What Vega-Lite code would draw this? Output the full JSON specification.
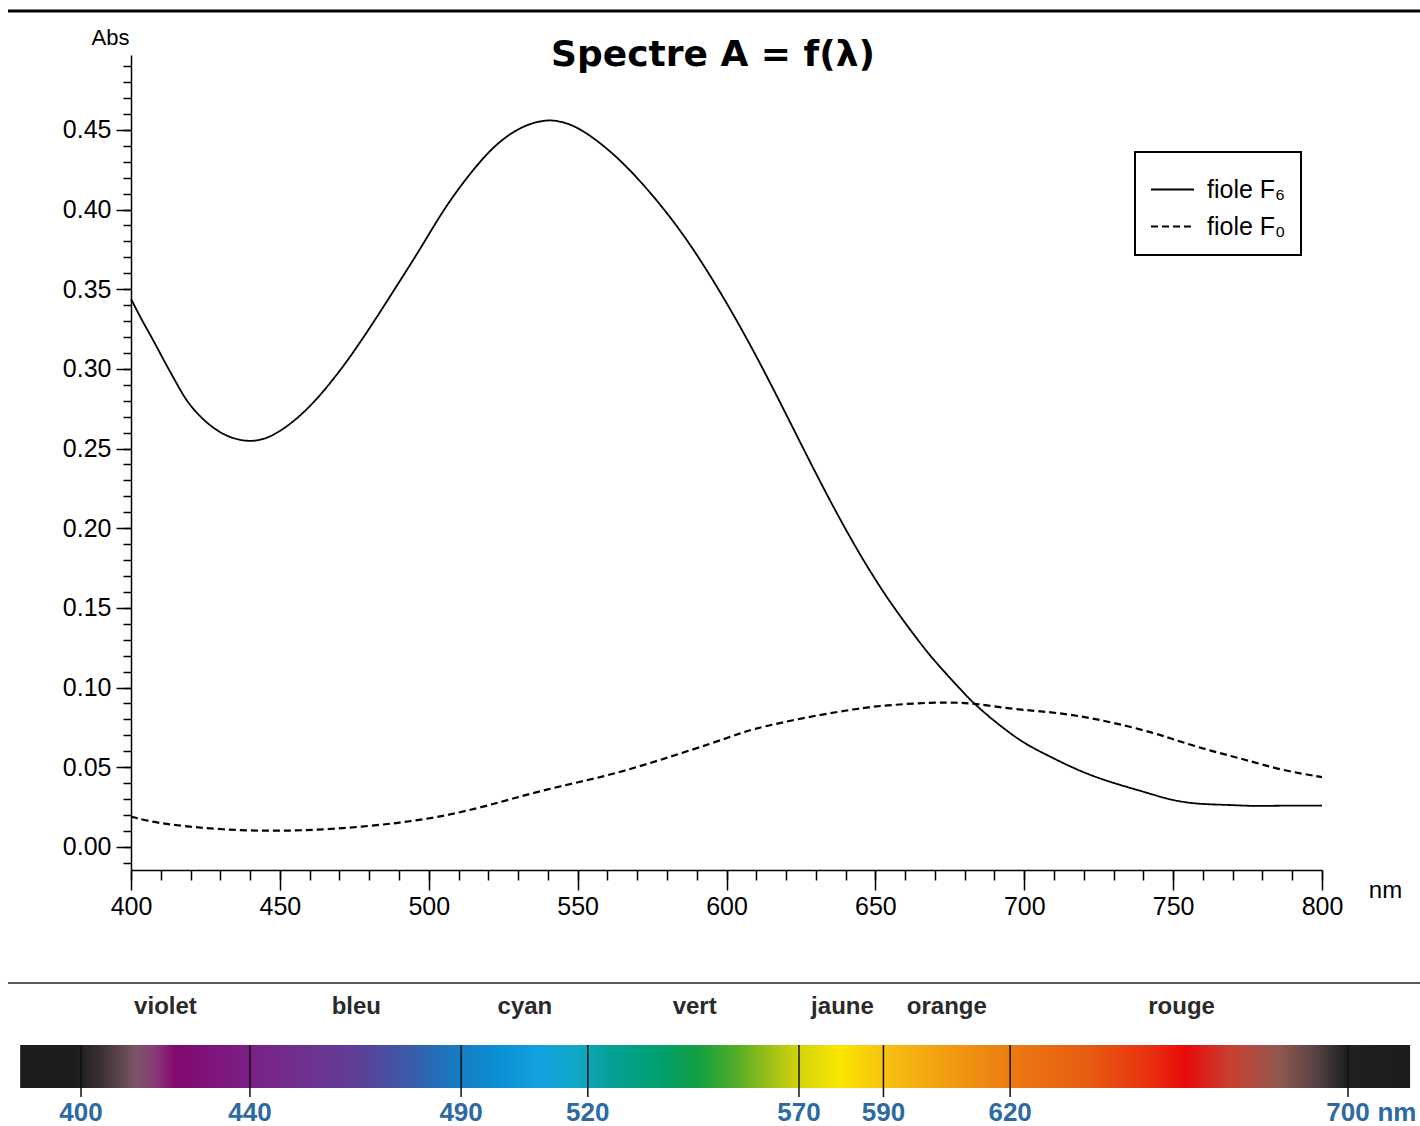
{
  "$schema": "https://vega.github.io/schema/vega-lite/v6.json",
  "width": 1420,
  "height": 1126,
  "autosize": {"type": "none"},
  "padding": 0,
  "background": "white",
  "config": {"view": {"stroke": null}, "font": "Liberation Sans", "legend": {"strokeWidth": 2}},
  "title": {"text": "Spectre A = f(λ)", "font": "DejaVu Sans", "fontSize": 36, "fontWeight": "bold", "anchor": "middle", "frame": "group", "offset": 0, "dy": 102, "dx": 3, "baseline": "alphabetic", "color": "black"},
  "datasets": {
    "spectres": [
      {"lambda": 400, "A": 0.344, "fiole": "fiole F₆"},
      {"lambda": 403.5, "A": 0.331, "fiole": "fiole F₆"},
      {"lambda": 407.5, "A": 0.318, "fiole": "fiole F₆"},
      {"lambda": 411.4, "A": 0.304, "fiole": "fiole F₆"},
      {"lambda": 415.3, "A": 0.291, "fiole": "fiole F₆"},
      {"lambda": 418.7, "A": 0.2796, "fiole": "fiole F₆"},
      {"lambda": 423.2, "A": 0.270, "fiole": "fiole F₆"},
      {"lambda": 427.6, "A": 0.2628, "fiole": "fiole F₆"},
      {"lambda": 433.2, "A": 0.2566, "fiole": "fiole F₆"},
      {"lambda": 440, "A": 0.254, "fiole": "fiole F₆"},
      {"lambda": 446.7, "A": 0.2565, "fiole": "fiole F₆"},
      {"lambda": 455.6, "A": 0.268, "fiole": "fiole F₆"},
      {"lambda": 463.5, "A": 0.283, "fiole": "fiole F₆"},
      {"lambda": 472.4, "A": 0.304, "fiole": "fiole F₆"},
      {"lambda": 481.4, "A": 0.329, "fiole": "fiole F₆"},
      {"lambda": 489.2, "A": 0.352, "fiole": "fiole F₆"},
      {"lambda": 497.1, "A": 0.375, "fiole": "fiole F₆"},
      {"lambda": 504.9, "A": 0.4, "fiole": "fiole F₆"},
      {"lambda": 513.9, "A": 0.423, "fiole": "fiole F₆"},
      {"lambda": 522.8, "A": 0.442, "fiole": "fiole F₆"},
      {"lambda": 531.8, "A": 0.453, "fiole": "fiole F₆"},
      {"lambda": 539.6, "A": 0.4565, "fiole": "fiole F₆"},
      {"lambda": 544.1, "A": 0.4555, "fiole": "fiole F₆"},
      {"lambda": 550.8, "A": 0.4515, "fiole": "fiole F₆"},
      {"lambda": 563.1, "A": 0.434, "fiole": "fiole F₆"},
      {"lambda": 575.4, "A": 0.409, "fiole": "fiole F₆"},
      {"lambda": 586.6, "A": 0.382, "fiole": "fiole F₆"},
      {"lambda": 597.8, "A": 0.349, "fiole": "fiole F₆"},
      {"lambda": 609, "A": 0.312, "fiole": "fiole F₆"},
      {"lambda": 620.2, "A": 0.271, "fiole": "fiole F₆"},
      {"lambda": 631.4, "A": 0.229, "fiole": "fiole F₆"},
      {"lambda": 642.6, "A": 0.19, "fiole": "fiole F₆"},
      {"lambda": 653.8, "A": 0.156, "fiole": "fiole F₆"},
      {"lambda": 665, "A": 0.128, "fiole": "fiole F₆"},
      {"lambda": 669.5, "A": 0.1174, "fiole": "fiole F₆"},
      {"lambda": 678.4, "A": 0.0992, "fiole": "fiole F₆"},
      {"lambda": 682.9, "A": 0.0902, "fiole": "fiole F₆"},
      {"lambda": 690.7, "A": 0.0777, "fiole": "fiole F₆"},
      {"lambda": 699.7, "A": 0.0651, "fiole": "fiole F₆"},
      {"lambda": 707.5, "A": 0.0578, "fiole": "fiole F₆"},
      {"lambda": 718.7, "A": 0.0473, "fiole": "fiole F₆"},
      {"lambda": 729.9, "A": 0.04, "fiole": "fiole F₆"},
      {"lambda": 741.1, "A": 0.0341, "fiole": "fiole F₆"},
      {"lambda": 748.9, "A": 0.0295, "fiole": "fiole F₆"},
      {"lambda": 757.9, "A": 0.0268, "fiole": "fiole F₆"},
      {"lambda": 769.1, "A": 0.0264, "fiole": "fiole F₆"},
      {"lambda": 775.8, "A": 0.0256, "fiole": "fiole F₆"},
      {"lambda": 785.9, "A": 0.0259, "fiole": "fiole F₆"},
      {"lambda": 800, "A": 0.0259, "fiole": "fiole F₆"},
      {"lambda": 400, "A": 0.019, "fiole": "fiole F₀"},
      {"lambda": 405, "A": 0.0165, "fiole": "fiole F₀"},
      {"lambda": 413.4, "A": 0.0138, "fiole": "fiole F₀"},
      {"lambda": 430.6, "A": 0.0107, "fiole": "fiole F₀"},
      {"lambda": 449.4, "A": 0.0098, "fiole": "fiole F₀"},
      {"lambda": 468.3, "A": 0.0111, "fiole": "fiole F₀"},
      {"lambda": 490.5, "A": 0.0149, "fiole": "fiole F₀"},
      {"lambda": 507.7, "A": 0.0201, "fiole": "fiole F₀"},
      {"lambda": 524.8, "A": 0.0284, "fiole": "fiole F₀"},
      {"lambda": 538.5, "A": 0.0358, "fiole": "fiole F₀"},
      {"lambda": 559.1, "A": 0.0441, "fiole": "fiole F₀"},
      {"lambda": 576.2, "A": 0.0535, "fiole": "fiole F₀"},
      {"lambda": 601.9, "A": 0.0692, "fiole": "fiole F₀"},
      {"lambda": 607.1, "A": 0.0734, "fiole": "fiole F₀"},
      {"lambda": 627.6, "A": 0.0818, "fiole": "fiole F₀"},
      {"lambda": 644.8, "A": 0.087, "fiole": "fiole F₀"},
      {"lambda": 651.5, "A": 0.0885, "fiole": "fiole F₀"},
      {"lambda": 663.6, "A": 0.0902, "fiole": "fiole F₀"},
      {"lambda": 674, "A": 0.0908, "fiole": "fiole F₀"},
      {"lambda": 683, "A": 0.0902, "fiole": "fiole F₀"},
      {"lambda": 696.3, "A": 0.0864, "fiole": "fiole F₀"},
      {"lambda": 707.5, "A": 0.0849, "fiole": "fiole F₀"},
      {"lambda": 718.7, "A": 0.0822, "fiole": "fiole F₀"},
      {"lambda": 729.9, "A": 0.078, "fiole": "fiole F₀"},
      {"lambda": 743.3, "A": 0.0718, "fiole": "fiole F₀"},
      {"lambda": 752.3, "A": 0.0661, "fiole": "fiole F₀"},
      {"lambda": 763.5, "A": 0.0598, "fiole": "fiole F₀"},
      {"lambda": 774.7, "A": 0.0546, "fiole": "fiole F₀"},
      {"lambda": 785.9, "A": 0.0483, "fiole": "fiole F₀"},
      {"lambda": 800, "A": 0.0438, "fiole": "fiole F₀"}
    ],
    "graduations": [
      {"lambda": 400, "texte": "400"},
      {"lambda": 440, "texte": "440"},
      {"lambda": 490, "texte": "490"},
      {"lambda": 520, "texte": "520"},
      {"lambda": 570, "texte": "570"},
      {"lambda": 590, "texte": "590"},
      {"lambda": 620, "texte": "620"},
      {"lambda": 700, "texte": "700"},
      {"lambda": 711.6, "texte": "nm"}
    ],
    "couleurs": [
      {"lambda": 420, "nom": "violet"},
      {"lambda": 465.2, "nom": "bleu"},
      {"lambda": 505.1, "nom": "cyan"},
      {"lambda": 545.3, "nom": "vert"},
      {"lambda": 580.3, "nom": "jaune"},
      {"lambda": 605, "nom": "orange"},
      {"lambda": 660.6, "nom": "rouge"}
    ],
    "bande": [{"debut": 385.6, "fin": 714.7}]
  },
  "layer": [
    {
      "layer": [
        {
          "data": {"name": "spectres"},
          "transform": [{"filter": "datum.fiole === 'fiole F₆'"}],
          "mark": {"type": "line", "color": "black", "strokeWidth": 1.8, "interpolate": "basis"},
          "encoding": {
            "x": {
              "field": "lambda", "type": "quantitative",
              "scale": {"domain": [400, 800], "range": [131, 1322], "nice": false, "zero": false},
              "axis": {
                "orient": "bottom", "offset": -256,
                "values": [400,410,420,430,440,450,460,470,480,490,500,510,520,530,540,550,560,570,580,590,600,610,620,630,640,650,660,670,680,690,700,710,720,730,740,750,760,770,780,790,800],
                "tickSize": 10, "labels": false, "grid": false,
                "domainColor": "black", "domainWidth": 1.5, "tickColor": "black", "tickWidth": 1.5,
                "title": "nm", "titleX": 1385, "titleY": 20, "titleAlign": "center", "titleBaseline": "middle",
                "titleFontSize": 24, "titleFontWeight": "normal", "titleColor": "black", "titleFont": "Liberation Sans"
              }
            },
            "y": {
              "field": "A", "type": "quantitative",
              "scale": {"domain": [-0.0145, 0.497], "range": [870, 55], "nice": false, "zero": false},
              "axis": {
                "orient": "left", "offset": -131,
                "values": [-0.01,0,0.01,0.02,0.03,0.04,0.05,0.06,0.07,0.08,0.09,0.1,0.11,0.12,0.13,0.14,0.15,0.16,0.17,0.18,0.19,0.2,0.21,0.22,0.23,0.24,0.25,0.26,0.27,0.28,0.29,0.3,0.31,0.32,0.33,0.34,0.35,0.36,0.37,0.38,0.39,0.4,0.41,0.42,0.43,0.44,0.45,0.46,0.47,0.48,0.49],
                "tickSize": 8, "labels": false, "grid": false,
                "domainColor": "black", "domainWidth": 1.5, "tickColor": "black", "tickWidth": 1.5,
                "title": "Abs", "titleAngle": 0, "titleX": -21, "titleY": 44, "titleAlign": "center", "titleBaseline": "alphabetic",
                "titleFontSize": 22, "titleFontWeight": "normal", "titleColor": "black", "titleFont": "Liberation Sans"
              }
            },
            "strokeDash": {
              "field": "fiole", "type": "nominal",
              "scale": {"domain": ["fiole F₆", "fiole F₀"], "range": [[1, 0], [7, 4]]},
              "legend": {
                "orient": "none", "legendX": 1135, "legendY": 152, "title": null,
                "symbolType": "stroke", "symbolSize": 1849, "symbolStrokeWidth": 2, "symbolStrokeColor": "black",
                "labelFontSize": 25, "labelFont": "Liberation Sans", "labelColor": "black", "labelOffset": 12,
                "padding": 15, "rowPadding": 1, "strokeColor": "black", "fillColor": "white"
              }
            }
          }
        },
        {
          "data": {"name": "spectres"},
          "transform": [{"filter": "datum.fiole === 'fiole F₀'"}],
          "mark": {"type": "line", "color": "black", "strokeWidth": 2.2, "interpolate": "basis"},
          "encoding": {
            "x": {
              "field": "lambda", "type": "quantitative",
              "axis": {
                "orient": "bottom", "offset": -256,
                "values": [400, 450, 500, 550, 600, 650, 700, 750, 800],
                "format": "d", "tickSize": 20, "domain": false, "grid": false, "title": null,
                "labelOverlap": false, "labelFlush": false, "labelBound": false,
                "labelFontSize": 25, "labelPadding": 4, "labelColor": "black", "labelFont": "Liberation Sans",
                "tickColor": "black", "tickWidth": 1.5
              }
            },
            "y": {
              "field": "A", "type": "quantitative",
              "axis": {
                "orient": "left", "offset": -131,
                "values": [0, 0.05, 0.1, 0.15, 0.2, 0.25, 0.3, 0.35, 0.4, 0.45],
                "format": ".2f", "tickSize": 15, "domain": false, "grid": false, "title": null,
                "labelOverlap": false, "labelFlush": false, "labelBound": false,
                "labelFontSize": 25, "labelPadding": 5, "labelColor": "black", "labelFont": "Liberation Sans",
                "tickColor": "black", "tickWidth": 1.5
              }
            },
            "strokeDash": {
              "field": "fiole", "type": "nominal",
              "legend": {
                "orient": "none", "legendX": 1135, "legendY": 152, "title": null,
                "symbolType": "stroke", "symbolSize": 1849, "symbolStrokeWidth": 2, "symbolStrokeColor": "black",
                "labelFontSize": 25, "labelFont": "Liberation Sans", "labelColor": "black", "labelOffset": 12,
                "padding": 15, "rowPadding": 1, "strokeColor": "black", "fillColor": "white"
              }
            }
          }
        },
        {
          "data": {"values": [{}]},
          "mark": {"type": "rule", "color": "black", "strokeWidth": 3},
          "encoding": {
            "x": {"datum": 358.7, "type": "quantitative", "axis": null},
            "x2": {"datum": 833},
            "y": {"datum": 0.5246, "type": "quantitative", "axis": null}
          }
        }
      ],
      "resolve": {"axis": {"x": "independent", "y": "independent"}}
    },
    {
      "layer": [
        {
          "data": {"name": "bande"},
          "mark": {"type": "rect", "color": {"gradient": "linear", "x1": 0, "x2": 1, "y1": 0, "y2": 0, "stops": [
            {"offset": 0, "color": "#1c1c1e"},
            {"offset": 0.04, "color": "#1c1c1e"},
            {"offset": 0.058, "color": "#3a3034"},
            {"offset": 0.083, "color": "#7a5565"},
            {"offset": 0.097, "color": "#8a3a78"},
            {"offset": 0.112, "color": "#820870"},
            {"offset": 0.151, "color": "#7c1a80"},
            {"offset": 0.201, "color": "#703090"},
            {"offset": 0.245, "color": "#5c4098"},
            {"offset": 0.281, "color": "#3a5ca8"},
            {"offset": 0.309, "color": "#1a78c0"},
            {"offset": 0.345, "color": "#0a90d4"},
            {"offset": 0.374, "color": "#12a2e0"},
            {"offset": 0.399, "color": "#10a8c8"},
            {"offset": 0.424, "color": "#06a098"},
            {"offset": 0.46, "color": "#00a070"},
            {"offset": 0.489, "color": "#14a040"},
            {"offset": 0.514, "color": "#50ac28"},
            {"offset": 0.54, "color": "#a0c018"},
            {"offset": 0.561, "color": "#d4d40a"},
            {"offset": 0.59, "color": "#fae600"},
            {"offset": 0.619, "color": "#f8c410"},
            {"offset": 0.662, "color": "#f2a010"},
            {"offset": 0.712, "color": "#ec7c12"},
            {"offset": 0.77, "color": "#e85a10"},
            {"offset": 0.813, "color": "#e83010"},
            {"offset": 0.838, "color": "#e80a0a"},
            {"offset": 0.871, "color": "#c84030"},
            {"offset": 0.906, "color": "#905850"},
            {"offset": 0.935, "color": "#504040"},
            {"offset": 0.953, "color": "#202022"},
            {"offset": 1, "color": "#1c1c1e"}
          ]}},
          "encoding": {
            "x": {"field": "debut", "type": "quantitative", "scale": {"domain": [400, 700], "range": [81, 1348], "nice": false, "zero": false}, "axis": null},
            "x2": {"field": "fin"},
            "y": {"datum": 0, "type": "quantitative", "scale": {"domain": [0, 1], "range": [1088, 1045], "nice": false, "zero": false}, "axis": null},
            "y2": {"datum": 1}
          }
        },
        {
          "data": {"name": "graduations"},
          "transform": [{"filter": "datum.texte !== 'nm'"}],
          "mark": {"type": "rule", "color": "#111111", "strokeWidth": 1.5},
          "encoding": {
            "x": {"field": "lambda", "type": "quantitative", "axis": null},
            "y": {"datum": 1, "type": "quantitative", "axis": null},
            "y2": {"datum": -0.21}
          }
        },
        {
          "data": {"name": "graduations"},
          "mark": {"type": "text", "color": "#2d6aa3", "fontSize": 26, "fontWeight": "bold", "font": "Liberation Sans", "align": "center", "baseline": "middle"},
          "encoding": {
            "x": {"field": "lambda", "type": "quantitative", "axis": null},
            "y": {"datum": -0.581, "type": "quantitative", "axis": null},
            "text": {"field": "texte"}
          }
        },
        {
          "data": {"name": "couleurs"},
          "mark": {"type": "text", "color": "#2a2a2a", "fontSize": 24, "fontWeight": "bold", "font": "Liberation Sans", "align": "center", "baseline": "middle"},
          "encoding": {
            "x": {"field": "lambda", "type": "quantitative", "axis": null},
            "y": {"datum": 1.884, "type": "quantitative", "axis": null},
            "text": {"field": "nom"}
          }
        },
        {
          "data": {"values": [{}]},
          "mark": {"type": "rule", "color": "#222222", "strokeWidth": 1.5},
          "encoding": {
            "x": {"datum": 382.7, "type": "quantitative", "axis": null},
            "x2": {"datum": 717.1},
            "y": {"datum": 2.442, "type": "quantitative", "axis": null}
          }
        }
      ]
    }
  ],
  "resolve": {"scale": {"x": "independent", "y": "independent"}, "axis": {"x": "independent", "y": "independent"}}
}
